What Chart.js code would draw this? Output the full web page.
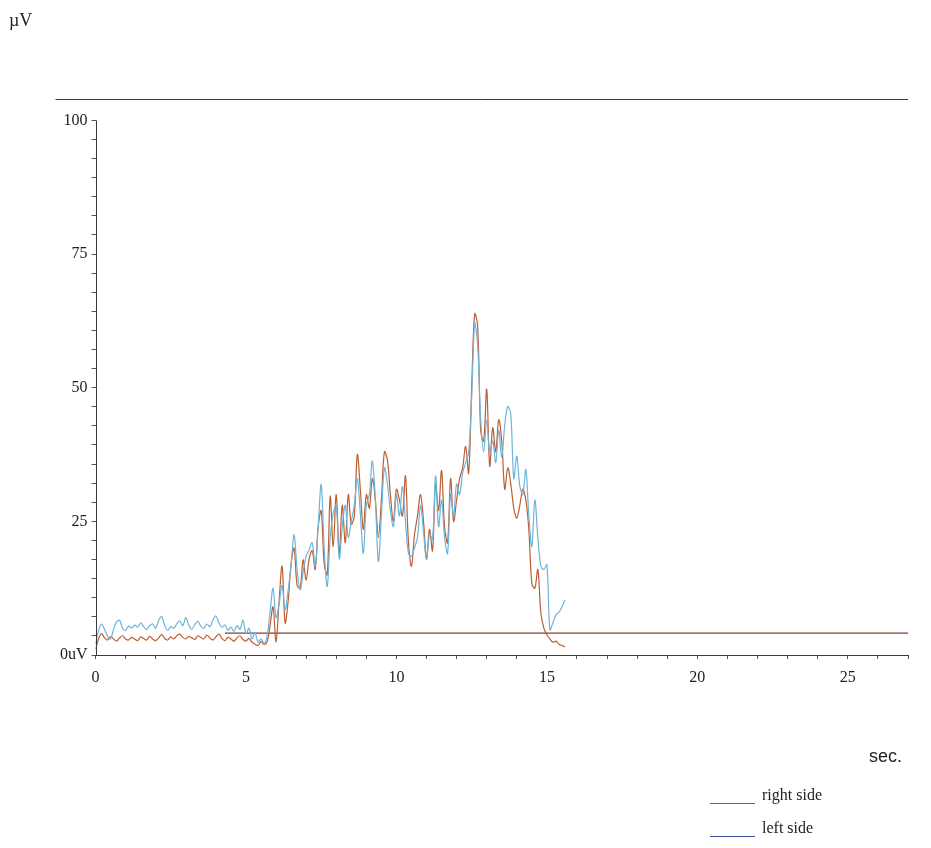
<!DOCTYPE html>
<html>
<head>
<meta charset="utf-8">
<title>EMG right / left side</title>
<script src="https://cdn.jsdelivr.net/npm/chart.js@4.4.1/dist/chart.umd.min.js"></script>
<style>
  html, body { margin: 0; padding: 0; background: #fff; }
  #wrap { position: relative; width: 931px; height: 848px; }
  #chart { position: absolute; left: 0; top: 0; }
  .lbl { position: absolute; color: #222; white-space: nowrap; }
  #unit { left: 9px; top: 10px; font: 18px "Liberation Serif", serif; }
  #sec { left: 869px; top: 746px; font: 18px "Liberation Sans", sans-serif; }
  .key { position: absolute; left: 710px; font: 16px "Liberation Serif", serif; color: #222; }
  .key span { display: inline-block; width: 45px; height: 0; border-top: 1px solid; margin-right: 7px; vertical-align: -4px; }
</style>
</head>
<body>
<div id="wrap">
  <canvas id="chart" width="931" height="848"></canvas>
  <div class="lbl" id="unit">µV</div>
  <div class="lbl" id="sec">sec.</div>
  <div class="key" style="top:786px"><span style="border-color:#a0553a"></span>right side</div>
  <div class="key" style="top:819px"><span style="border-color:#3a4b9c"></span>left side</div>
</div>
<script>
// samples every 0.1 s
const sampleStep = 0.1;

const rightSide = [
  1.0, 3.0, 4.0, 3.2, 2.8, 3.4, 3.0, 2.6, 3.2, 3.6,
  3.0, 2.8, 3.3, 3.0, 2.7, 3.4, 3.1, 2.8, 3.5, 3.0,
  2.7, 3.2, 3.8, 3.1, 2.8, 3.4, 3.0, 3.6, 3.9, 3.3,
  3.0, 3.5, 3.2, 2.9, 3.6, 3.3, 3.0, 3.7, 3.2, 2.8,
  3.4, 3.9, 3.1, 2.7, 3.3, 3.0, 2.6, 3.2, 3.6, 2.9,
  2.6, 3.1, 2.4, 2.0, 1.8, 2.5, 2.0, 2.4, 5.5, 9.0,
  2.5, 10.0, 16.6, 6.0, 10.0, 17.0, 20.0, 13.0, 12.5, 17.8,
  14.0, 18.0, 19.5, 16.0, 24.0, 27.0, 17.0, 15.0, 29.7, 20.3,
  30.0, 19.0, 28.0, 21.0, 30.0, 24.5, 26.0, 37.5, 31.0, 23.5,
  30.0, 27.5, 33.0, 29.0, 22.0, 29.0, 38.0, 36.5, 30.0, 25.0,
  31.0, 29.0, 26.0, 33.5, 21.0, 16.6, 22.5, 26.0, 30.0, 25.0,
  18.0, 23.5, 19.5, 32.0, 27.0, 34.5, 24.0, 21.0, 33.0, 25.0,
  29.0, 33.0, 35.0, 39.0, 34.0, 50.0, 63.8, 61.5, 42.0, 40.0,
  49.7, 35.3, 42.5, 38.0, 44.0, 40.0, 31.0, 35.0, 32.0, 27.5,
  25.6, 28.0, 31.0, 29.0, 23.5, 13.4, 12.5, 16.0, 7.8, 5.0,
  3.8, 3.0, 2.4, 2.6, 2.0, 1.8, 1.5
];

const leftSide = [
  2.0, 4.5, 5.8, 4.8, 3.5, 3.0, 4.8, 6.2, 6.5, 5.0,
  4.6, 5.4, 5.0, 5.6, 5.2, 6.0, 5.3, 4.8, 5.5, 5.8,
  5.0, 6.5, 7.2, 5.5, 4.6, 5.3, 5.0, 5.8, 6.4, 5.5,
  7.0, 5.6, 4.8, 5.7, 6.3, 5.4, 5.0, 5.8, 5.3, 6.5,
  7.3, 6.0, 5.2, 5.6, 4.6, 5.2, 4.4, 5.5, 4.8, 6.5,
  4.0, 5.0, 3.0, 4.2, 2.4, 3.0, 2.2, 3.5, 8.0, 12.5,
  7.0, 9.5, 13.0, 8.5, 12.0, 17.0, 22.5, 16.0, 12.2, 15.5,
  18.5, 19.7, 21.0, 16.6, 24.0, 31.9, 20.0, 12.8, 22.0, 26.5,
  28.0, 18.0, 24.0, 28.0, 22.0, 25.0, 28.0, 33.0, 26.5, 19.0,
  28.0, 30.0, 36.3, 29.0, 17.5, 26.0, 35.0, 32.0, 27.0, 24.0,
  30.0, 26.0, 31.5, 25.0, 19.0, 18.5, 20.0, 22.0, 28.0, 23.0,
  17.8, 22.5, 21.6, 33.5, 24.0, 29.0, 22.0, 19.0, 30.0, 26.0,
  32.0, 30.0, 34.0, 36.0, 38.0, 48.0, 62.0, 58.0, 44.0, 38.0,
  44.0, 38.0, 40.0, 36.0, 42.0, 37.0, 43.0, 46.5, 45.0, 33.0,
  37.2, 31.6, 30.0, 34.7, 26.0, 20.3, 29.0, 22.0, 16.6, 16.0,
  16.9, 4.7, 6.0, 7.5, 8.0, 9.0, 10.3
];

// baseline threshold drawn across the record
const thresholdTimes = [4.3, 27];
const thresholdLevel = 4.1;

const yLabelTicks = [0, 25, 50, 75, 100];
const xLabelTicks = [0, 5, 10, 15, 20, 25];
const xMax = 27;
const yMax = 104;
const topRuleValue = 104;

function toPoints(values) {
  return values.map((v, i) => ({ x: +(i * sampleStep).toFixed(1), y: v }));
}

const frameLines = {
  id: 'frameLines',
  afterDraw(chart) {
    const { ctx, chartArea } = chart;
    const x = chart.scales.x, y = chart.scales.y;
    ctx.save();
    ctx.strokeStyle = '#3a3a3a';
    ctx.lineWidth = 1;
    const top = Math.round(y.getPixelForValue(topRuleValue)) + 0.5;
    ctx.beginPath();
    ctx.moveTo(chartArea.left - 40, top);
    ctx.lineTo(chartArea.right, top);
    ctx.stroke();
    const ax = Math.round(x.getPixelForValue(0)) + 0.5;
    ctx.beginPath();
    ctx.moveTo(ax, y.getPixelForValue(0));
    ctx.lineTo(ax, y.getPixelForValue(100));
    ctx.stroke();
    ctx.restore();
  }
};

const ctx = document.getElementById('chart');
new Chart(ctx, {
  type: 'line',
  data: {
    datasets: [{
      label: 'left side',
      data: toPoints(leftSide),
      borderColor: '#6fb4da',
      borderWidth: 1.2,
      pointRadius: 0,
      tension: 0.35
    }, {
      label: 'right side',
      data: toPoints(rightSide),
      borderColor: '#bd5f33',
      borderWidth: 1.2,
      pointRadius: 0,
      tension: 0.35
    }, {
      label: 'threshold',
      data: thresholdTimes.map(t => ({ x: t, y: thresholdLevel })),
      borderColor: '#8c3b2c',
      borderWidth: 1.3,
      pointRadius: 0
    }]
  },
  options: {
    responsive: false,
    animation: false,
    layout: { padding: { left: 50.5, top: 99, right: 23, bottom: 153 } },
    plugins: { legend: { display: false }, tooltip: { enabled: false } },
    scales: {
      x: {
        type: 'linear',
        min: 0,
        max: xMax,
        afterFit(scale) { scale.height = 40; },
        afterBuildTicks(scale) {
          const t = [];
          for (let i = 0; i <= xMax; i++) t.push({ value: i });
          scale.ticks = t;
        },
        border: { display: true, color: '#3a3a3a', width: 1 },
        grid: { drawOnChartArea: false, drawTicks: true, tickLength: 4, color: '#555' },
        ticks: {
          autoSkip: false,
          maxRotation: 0,
          padding: 9,
          color: '#222',
          font: { family: 'Liberation Serif', size: 16 },
          callback: v => xLabelTicks.includes(v) ? String(v) : ''
        }
      },
      y: {
        min: 0,
        max: yMax,
        afterFit(scale) { scale.width = 45; },
        afterBuildTicks(scale) {
          const t = [];
          for (let i = 0; i <= 28; i++) t.push({ value: i * 25 / 7 });
          scale.ticks = t;
        },
        border: { display: false },
        grid: { drawOnChartArea: false, drawTicks: true, tickLength: 4, color: '#555' },
        ticks: {
          autoSkip: false,
          padding: 4,
          color: '#222',
          font: { family: 'Liberation Serif', size: 16 },
          callback: (v, i) => {
            if (i % 7 !== 0) return '';
            const lab = yLabelTicks[i / 7];
            return lab === 0 ? '0uV' : String(lab);
          }
        }
      }
    }
  },
  plugins: [frameLines]
});
</script>
</body>
</html>
